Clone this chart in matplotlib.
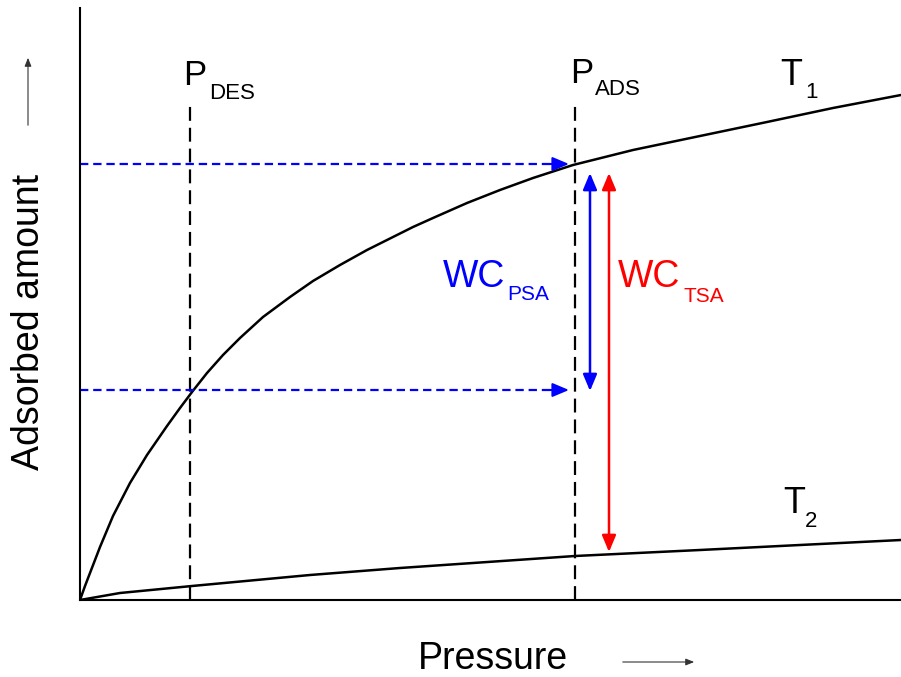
import matplotlib
matplotlib.use("Agg")
import matplotlib.pyplot as plt

plt.rcParams['font.family'] = ['Liberation Sans', 'DejaVu Sans']
plt.rcParams['lines.scale_dashes'] = False

# isotherms (pressure, adsorbed amount)
t1_p = [0, 5, 10, 20, 33, 50, 67, 87, 100, 112, 127, 143, 160, 183, 210, 233, 260,
        287, 313, 333, 353, 387, 420, 453, 493, 553, 620, 687, 753, 821]
t1_q = [0, 14, 27, 53, 84, 117, 145, 174, 192, 208, 227, 245, 262, 283, 303, 319, 335,
        350, 363, 373, 382, 397, 410, 422, 435, 450, 464, 478, 492, 505]
t2_p = [0, 40, 112, 230, 320, 495, 620, 720, 821]
t2_q = [0, 7, 14, 25, 32, 44, 50, 55, 60]

p_des, p_ads = 110, 495
q_des, q_ads = 210, 436
line_top = 500
wc_top = 427
wc_psa_bottom = 209
wc_tsa_bottom = 48
x_psa, x_tsa = 510, 529

W, H = 901, 677
fig = plt.figure(figsize=(W / 100, H / 100), dpi=100)
ax = fig.add_axes([80 / W, 77 / H, 821 / W, 592 / H])
ax.set_xlim(0, 821)
ax.set_ylim(0, 592)
ax.set_xticks([])
ax.set_yticks([])
for s in ['top', 'right']:
    ax.spines[s].set_visible(False)
for s in ['left', 'bottom']:
    ax.spines[s].set_linewidth(1.5)

ax.plot(t1_p, t1_q, color='black', lw=1.8, solid_joinstyle='round')
ax.plot(t2_p, t2_q, color='black', lw=1.8, solid_joinstyle='round')

# pressure markers
for p in (p_des, p_ads):
    ax.plot([p, p], [0, line_top], color='black', lw=1.6, dashes=(10, 5))

# blue dotted projections onto the axis
for q in (q_des, q_ads):
    ax.plot([0, 472], [q, q], color='blue', lw=1.6, dashes=(6, 3.5))
    ax.annotate('', xy=(489, q), xytext=(470, q),
                arrowprops=dict(arrowstyle='-|>,head_length=1.0,head_width=0.42',
                                color='blue', lw=1.5, shrinkA=0, shrinkB=0))

# working capacity arrows
ax.annotate('', xy=(x_psa, wc_top), xytext=(x_psa, wc_psa_bottom),
            arrowprops=dict(arrowstyle='<|-|>,head_length=1.0,head_width=0.42',
                            color='blue', lw=1.8, shrinkA=0, shrinkB=0))
ax.annotate('', xy=(x_tsa, wc_top), xytext=(x_tsa, wc_tsa_bottom),
            arrowprops=dict(arrowstyle='<|-|>,head_length=1.0,head_width=0.42',
                            color='red', lw=1.8, shrinkA=0, shrinkB=0))

def label(x, y, main, sub, xs, ys, color='black', size=25, subsize=16):
    ax.text(x, y, main, color=color, fontsize=size, ha='left', va='baseline', clip_on=False)
    ax.text(xs, ys, sub, color=color, fontsize=subsize, ha='left', va='baseline', clip_on=False)

label(103, 515, 'P', 'DES', 129, 501)
label(490, 517, 'P', 'ADS', 515, 505)
label(700, 515, 'T', '1', 725, 502, size=26)
label(703, 87, 'T', '2', 725, 73, size=26)
label(363, 313, 'WC', 'PSA', 427, 300, color='blue', size=27, subsize=15)
label(538, 313, 'WC', 'TSA', 603, 298, color='red', size=27, subsize=15)

# axis labels with small direction arrows
fig.text(29 / W, 1 - 322 / H, 'Adsorbed amount', rotation=90, fontsize=27,
         ha='center', va='center')
fig.text(418 / W, 1 - 669 / H, 'Pressure', fontsize=27, ha='left', va='baseline')
fig.add_artist(matplotlib.patches.FancyArrowPatch(
    (28 / W, 1 - 128 / H), (28 / W, 1 - 55 / H), transform=fig.transFigure,
    arrowstyle='-|>,head_length=5,head_width=2', mutation_scale=1,
    color='#333333', lw=0.8))
fig.add_artist(matplotlib.patches.FancyArrowPatch(
    (620 / W, 1 - 662 / H), (697 / W, 1 - 662 / H), transform=fig.transFigure,
    arrowstyle='-|>,head_length=5,head_width=2', mutation_scale=1,
    color='#333333', lw=0.8))

fig.savefig('out.png', dpi=100, facecolor='white')
